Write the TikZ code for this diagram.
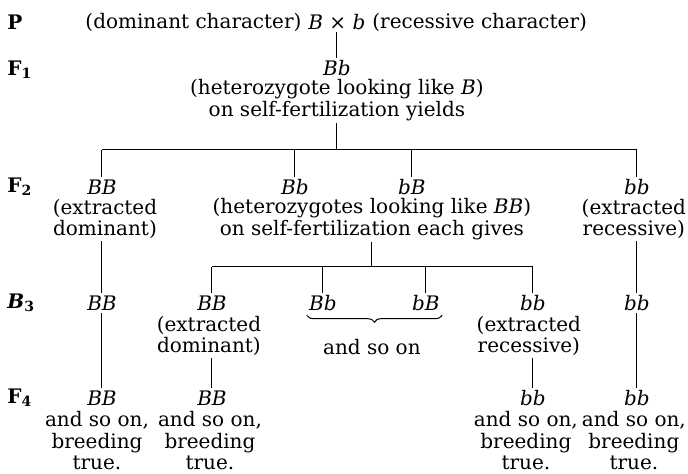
\documentclass[tikz,border=0pt]{standalone}
\usepackage{fontspec}
\setmainfont{DejaVu Serif}
\usetikzlibrary{decorations.pathreplacing}

\begin{document}
\begin{tikzpicture}[
    x=1pt, y=-1pt,
    line width=1pt,
    every node/.style={inner sep=2pt, align=center, font=\fontsize{20}{21.5}\selectfont},
    genlabel/.style={anchor=west, font=\fontsize{20}{21.5}\selectfont\bfseries}
]
\fill[white] (0,0) rectangle (688,474);

% generation labels
\node[genlabel] (gP) at (5,22) {P};
\node[genlabel] (gF1) at (5,70) {F\textsubscript{1}};
\node[genlabel] (gF2) at (5,187) {F\textsubscript{2}};
\node[genlabel] (gB3) at (5,303) {\textit{B}\textsubscript{3}};
\node[genlabel] (gF4) at (5,398) {F\textsubscript{4}};

% parents
\node (cross) at (337,22) {\textit{B} × \textit{b}};
\node (dom) [anchor=east, inner xsep=4pt] at (cross.west) {(dominant character)};
\node (rec) [anchor=west, inner xsep=4pt] at (cross.east) {(recessive character)};

% first generation
\node (fBb) at (337,68) {\textit{Bb}};
\node (fBbtxt) at (337,100) {(heterozygote looking like \textit{B})\\on self-fertilization yields};
\coordinate (bar1) at (337,150);

% second generation
\node (sBB) at (102,187) {\textit{BB}};
\node (sBb) at (295,187) {\textit{Bb}};
\node (sbB) at (412,187) {\textit{bB}};
\node (sbb) at (637,187) {\textit{bb}};
\node (sBBtxt) at (105,219) {(extracted\\dominant)};
\node (shettxt) at (372,219) {(heterozygotes looking like \textit{BB})\\on self-fertilization each gives};
\node (sbbtxt) at (634,219) {(extracted\\recessive)};
\coordinate (bar2) at (372,267);

% third generation
\node (tBBa) at (102,303) {\textit{BB}};
\node (tBBb) at (212,303) {\textit{BB}};
\node (tBb) at (323,303) {\textit{Bb}};
\node (tbB) at (426,303) {\textit{bB}};
\node (tbba) at (533,303) {\textit{bb}};
\node (tbbb) at (637,303) {\textit{bb}};
\node (tBBtxt) at (209,336) {(extracted\\dominant)};
\node (tbbtxt) at (529,336) {(extracted\\recessive)};
\node (soon) at (372,347) {and so on};

% fourth generation
\node (qBBa) at (102,398) {\textit{BB}};
\node (qBBb) at (212,398) {\textit{BB}};
\node (qbba) at (533,398) {\textit{bb}};
\node (qbbb) at (637,398) {\textit{bb}};
\node (qBBatxt) at (97,441) {and so on,\\breeding\\true.};
\node (qBBbtxt) at (210,441) {and so on,\\breeding\\true.};
\node (qbbatxt) at (526,441) {and so on,\\breeding\\true.};
\node (qbbbtxt) at (634,441) {and so on,\\breeding\\true.};

% connectors
\draw (cross) -- (fBb);
\draw (fBbtxt) -- (bar1);
\draw (sBB |- bar1) -- (sbb |- bar1);
\foreach \n in {sBB, sBb, sbB, sbb}
    \draw (\n |- bar1) -- (\n);
\draw (sBBtxt.south -| sBB) -- (tBBa);
\draw (sbbtxt.south -| sbb) -- (tbbb);
\draw (shettxt.south -| bar2) -- (bar2);
\draw (tBBb |- bar2) -- (tbba |- bar2);
\foreach \n in {tBBb, tBb, tbB, tbba}
    \draw (\n |- bar2) -- (\n);
\draw[decorate, decoration={brace, mirror, amplitude=7pt}]
    ([yshift=-2pt]tBb.south west) -- ([yshift=-2pt]tbB.south east);
\draw (tBBa) -- (qBBa);
\draw (tBBtxt.south -| tBBb) -- (qBBb);
\draw (tbbtxt.south -| tbba) -- (qbba);
\draw (tbbb) -- (qbbb);

\end{tikzpicture}
\end{document}
